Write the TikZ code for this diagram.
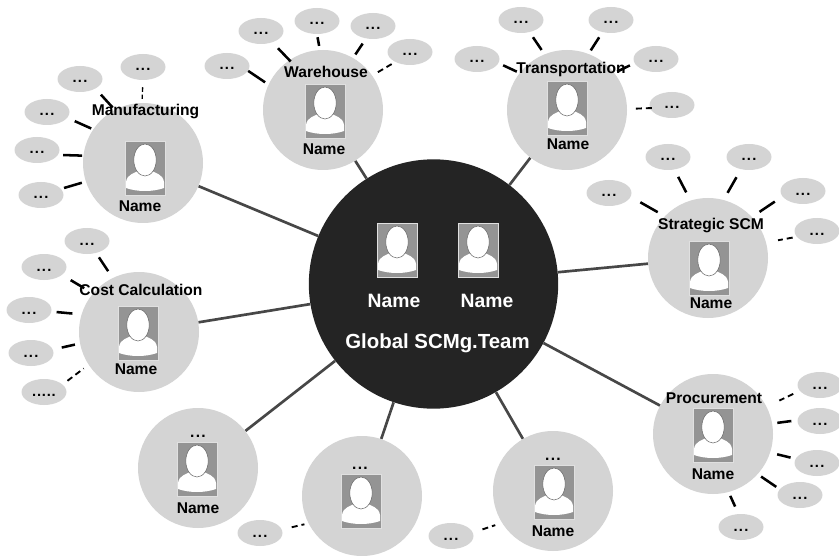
\documentclass[tikz,border=0pt]{standalone}
\usepackage{fontspec}
\setmainfont{Liberation Sans}
\usetikzlibrary{shapes.geometric}
\definecolor{disc}{gray}{0.83}
\definecolor{hubc}{gray}{0.14}
\definecolor{photo}{gray}{0.58}
\definecolor{rimc}{gray}{0.88}
\definecolor{spoke}{gray}{0.28}
\newcommand{\ddd}{.\kern1pt.\kern1pt.}
\newcommand{\satd}[1]{\smash{\raisebox{-3pt}{#1}}}
\tikzset{
  x=0.75pt,y=-0.75pt,
  disc/.style={circle,fill=disc,draw=none,minimum size=90pt,inner sep=0pt},
  hub/.style={circle,fill=hubc,draw=none,minimum size=187pt,inner sep=0pt},
  sat/.style={ellipse,fill=disc,draw=none,minimum width=33.75pt,minimum height=19.5pt,inner sep=0pt,font=\bfseries\fontsize{11}{12}\selectfont},
  lab/.style={font=\bfseries\fontsize{11.7}{13}\selectfont,text=black,inner sep=0pt},
  wname/.style={font=\bfseries\fontsize{14.5}{16}\selectfont,text=white,inner sep=0pt},
  wlab/.style={font=\bfseries\fontsize{15.3}{17}\selectfont,text=white,inner sep=0pt},
  spokeline/.style={draw=spoke,line width=2pt},
  stubline/.style={draw=black,line width=1.9pt},
  dashline/.style={draw=black,line width=1.4pt,dash pattern=on 4.5pt off 3pt},
  dotline/.style={draw=black,line width=1pt,dash pattern=on 3.5pt off 2pt},
  pics/person/.style={code={
    \fill[photo,draw=rimc,line width=0.6pt] (-20,-27) rectangle (20,27);
    \fill[white] (-19,20) -- (-19,14) .. controls (-18,6) and (-10,5) .. (-5,2)
      -- (5,2) .. controls (10,5) and (18,6) .. (19,14) -- (19,20)
      .. controls (8,24) and (-8,24) .. (-19,20) -- cycle;
    \fill[white,draw=photo!70!black,line width=0.4pt] (0,-8) ellipse [x radius=8.4pt,y radius=12pt];
  }}
}
% \stub[style]{from}{to}{gap at from}{gap at to}: gaps in reference pixels
\newcommand{\stub}[5][stubline]{\draw[#1,shorten <=#4*0.75pt,shorten >=#5*0.75pt] (#2) -- (#3);}
\begin{document}
\begin{tikzpicture}
\useasboundingbox (0,0) rectangle (839,556);
% discs
\node[hub] (hub) at (433.5,284) {};
\node[disc] (mfg) at (143,163) {};
\node[disc] (wh) at (323,110) {};
\node[disc] (tr) at (567,110) {};
\node[disc] (st) at (708,258) {};
\node[disc] (pr) at (713,434) {};
\node[disc] (cc) at (139,332) {};
\node[disc] (bl) at (198,468) {};
\node[disc] (bm) at (362,496) {};
\node[disc] (br) at (553,491) {};
% spokes
\foreach \n in {mfg,wh,tr,st,pr,cc,bl,bm,br} \draw[spokeline] (hub) -- (\n);
% satellites
\foreach \n/\p in {a1/{143,67},a2/{80,79},a3/{47,112},a4/{37,150},a5/{41,195},
  b1/{261,31},b2/{317,21},b3/{373,26},b4/{410,52},b5/{227,66},
  c1/{521,20},c2/{611,20},c3/{477,59},c4/{656,59},c5/{672,105},
  d1/{668,157},d2/{749,157},d3/{609,193},d4/{803,191},d5/{817,231},
  e1/{820,385},e2/{820,421},e3/{817,463},e4/{800,495},e5/{741,527},
  f1/{87,241},f2/{44,267},f3/{29,310},f4/{31,353},
  g1/{260,533},g2/{451,536}}
  \node[sat] (\n) at (\p) {\satd{\ddd}};
\node[sat] (f5) at (44,392) {\satd{.\kern.6pt.\kern.6pt.\kern.6pt.\kern.6pt.}};
% stubs
\stub[dotline]{a1.-90}{mfg.91}{7}{4}
\stub{a2.-32.5}{mfg.118.6}{8}{3}
\stub{a3.-16}{mfg.146.8}{8}{2}
\stub{a4.-13}{mfg.173.5}{5}{1}
\stub{a5.17}{mfg.198}{3}{4}
\stub{b1.-45}{wh.124.5}{8}{-2}
\stub{b2.-90}{wh.93.6}{3}{4}
\stub{b3.-119}{wh.60}{6}{4}
\stub[dashline]{b4.-146}{wh.35}{4}{6}
\stub{b5.-13}{wh.155}{0}{4}
\stub{c1.-55}{tr.112.6}{6}{5}
\stub{c2.-125}{tr.69}{6}{4}
\stub{c3.-11}{tr.142}{5}{3}
\stub{c4.191}{tr.38}{5}{3}
\stub[dashline]{c5.188.5}{tr.1}{-2}{8}
\stub{d1.-63}{st.107}{8}{9}
\stub{d2.-123}{st.75}{9}{8}
\stub{d3.-10}{st.136}{11}{8}
\stub{d4.195.4}{st.43}{9}{9}
\stub[dashline]{d5.196}{st.15}{4}{12}
\stub[dashline]{e1.196.5}{pr.27}{7}{14}
\stub{e2.178}{pr.10.6}{6}{5}
\stub{e3.169}{pr.-18}{5}{7}
\stub{e4.164}{pr.-42}{4}{4}
\stub{e5.101}{pr.-75.5}{8}{4}
\stub{f1.-53}{cc.116}{5}{8}
\stub{f2.-24}{cc.140}{10}{10}
\stub{f3.-4}{cc.163}{5}{9}
\stub{f4.9}{cc.191.5}{9}{5}
\stub[dashline]{f5.22.6}{cc.213}{6}{6}
\stub[dashline]{g1.9}{bm.207}{10}{4}
\stub[dashline]{g2.9}{br.212}{10}{7}
% hub content
\pic at (397,250) {person};
\pic at (478,250) {person};
\node[wname] (n1) at (394,301) {Name};
\node[wname] (n2) at (487,301) {Name};
\node[wlab] (gt) at (437.5,343) {Global SCMg.Team};
% disc content
\pic at (145,168) {person}; \node[lab] (l1) at (145.5,112) {Manufacturing}; \node[lab] (m1) at (140,206) {Name};
\pic at (325,111) {person}; \node[lab] (l2) at (326,72) {Warehouse}; \node[lab] (m2) at (324,149) {Name};
\pic at (567,108) {person}; \node[lab] (l3) at (571,69) {Transportation}; \node[lab] (m3) at (568,144) {Name};
\pic at (709,268) {person}; \node[lab] (l4) at (711,226) {Strategic SCM}; \node[lab] (m4) at (711,303) {Name};
\pic at (713,435) {person}; \node[lab] (l5) at (714,398) {Procurement}; \node[lab] (m5) at (713,474) {Name};
\pic at (138,333) {person}; \node[lab] (l6) at (141,290) {Cost Calculation}; \node[lab] (m6) at (136,369) {Name};
\pic at (197,469) {person}; \node[lab] (l7) at (198,436) {\ddd}; \node[lab] (m7) at (198,508) {Name};
\pic at (361,501) {person}; \node[lab] (l8) at (360,468) {\ddd};
\pic at (554,492) {person}; \node[lab] (l9) at (553,459) {\ddd}; \node[lab] (m9) at (553,531) {Name};
\end{tikzpicture}
\end{document}
